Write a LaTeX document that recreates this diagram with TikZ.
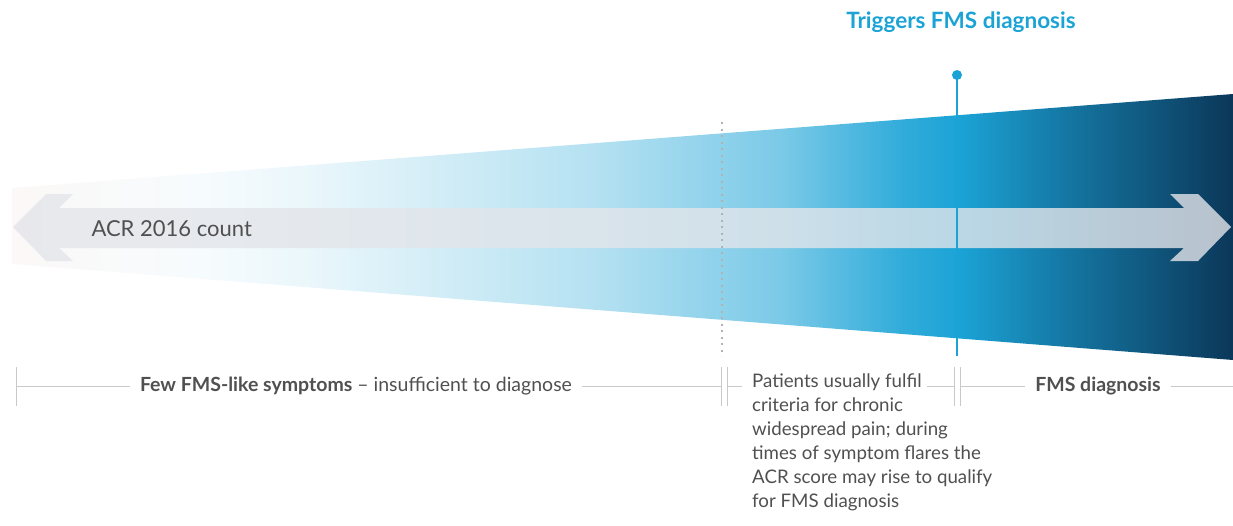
\documentclass[tikz,border=0pt]{standalone}
\usepackage{fontspec}
\setmainfont{Lato}
\usepackage{tikz}
\usetikzlibrary{positioning}

\definecolor{fmsblue}{HTML}{1BA3D6}
\definecolor{fmsnavy}{HTML}{0B3759}
\definecolor{fmsgray}{HTML}{505050}
\definecolor{rulegray}{HTML}{C9C9C9}
\definecolor{arrowgray}{HTML}{E3E5EA}
\definecolor{wedgeleft}{HTML}{FCF8F7}
\pgfdeclarehorizontalshading{wedgeshade}{100bp}{
  color(0bp)=(wedgeleft); color(25bp)=(wedgeleft);
  color(33bp)=(fmsblue!4); color(37bp)=(fmsblue!9);
  color(41.7bp)=(fmsblue!18); color(49bp)=(fmsblue!33);
  color(56.5bp)=(fmsblue!58); color(61.4bp)=(fmsblue!90);
  color(63.8bp)=(fmsblue); color(67.5bp)=(fmsblue!65!fmsnavy);
  color(75bp)=(fmsnavy); color(100bp)=(fmsnavy)}

\begin{document}
\begin{tikzpicture}[x=1pt,y=-1pt]
\tikzset{
  scaletext/.style={text=fmsgray,inner xsep=10pt,inner ysep=0pt,font=\fontsize{19.5}{24}\selectfont},
  rule/.style={draw=rulegray,line width=1pt},
  dotline/.style={draw=gray!60,line width=2.2pt,dash pattern=on 2.2pt off 4.3pt}
}
\useasboundingbox (0,0) rectangle (1233,525);

% widening band
\shade[shading=wedgeshade] (12,188) -- (1233,94) -- (1233,360) -- (12,264) -- cycle;

% double arrow
\fill[arrowgray,opacity=.8]
(13,227) -- (46,194) -- (73,194) -- (59,208) -- (1184,208) -- (1170,194) -- (1198,194)
-- (1231,227) -- (1198,261) -- (1170,261) -- (1184,248) -- (59,248) -- (73,261) -- (46,261) -- cycle;
\node[anchor=west,text=fmsgray,font=\fontsize{22}{24}\selectfont] (acr) at (88,229) {ACR 2016 count};

% threshold marks
\draw[dotline] (722,122) -- (722,356);
\coordinate (pin) at (957,75);
\coordinate (pinfoot) at (957,356);
\draw[fmsblue,line width=2.5pt] (pin) -- (pinfoot);
\fill[fmsblue] (pin) circle[radius=5];
\node[text=fmsblue,font=\fontsize{22.5}{24}\selectfont\bfseries] (trigger) at (961,22) {Triggers FMS diagnosis};

% scale below
\coordinate (t0) at (16,386);
\coordinate (t1) at (721,386);
\coordinate (t2) at (727,386);
\coordinate (t3) at (954,386);
\coordinate (t4) at (960,386);
\coordinate (tend) at (1233,386);
\foreach \x in {16,721,727,954,960}
  \draw[rule] (\x,367) -- (\x,406);

\node[scaletext] (few) at (356,386) {\textbf{Few FMS-like symptoms} -- insufficient to diagnose};
\node[scaletext,anchor=north west,inner xsep=0pt,align=left,font=\fontsize{18.7}{24}\selectfont] (patients) at (752,374)
  {Patients usually fulfil\\criteria for chronic\\widespread pain; during\\times of symptom flares the\\ACR score may rise to qualify\\for FMS diagnosis};
\node[scaletext,font=\fontsize{19.5}{24}\selectfont\bfseries] (fms) at (1098,386) {FMS diagnosis};
\coordinate (pl) at (742,386);
\coordinate (pr) at (927,386);

\draw[rule] (t0) -- (few.west) (few.east) -- (t1);
\draw[rule] (t2) -- (pl) (pr) -- (t3);
\draw[rule] (t4) -- (fms.west) (fms.east) -- (tend);
\end{tikzpicture}
\end{document}
